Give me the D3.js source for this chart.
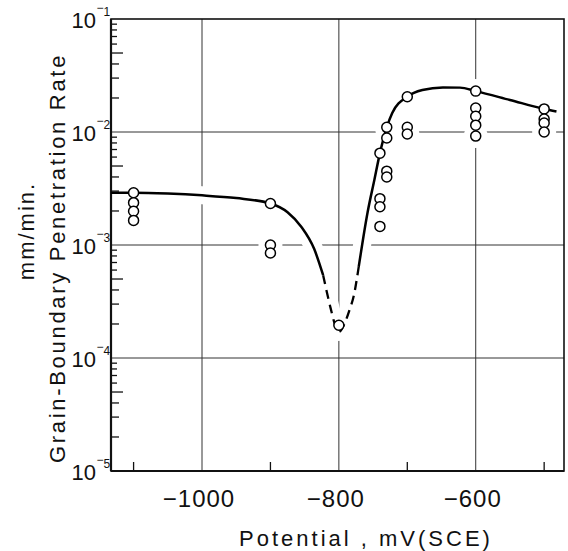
<!DOCTYPE html>
<html>
<head>
<meta charset="utf-8">
<script src="https://cdn.jsdelivr.net/npm/d3@7"></script>
<style>
  body { margin: 0; background: #fff; }
  text { font-family: "Liberation Sans", Arial, sans-serif; fill: #111; }
</style>
</head>
<body>
<div id="chart"></div>
<script>

var width = 568,
    height = 551;

// measured points (potential mV SCE, rate mm/min)
var pointX = [-1100, -1100, -1100, -1100,
              -900, -900, -900,
              -800,
              -740, -740, -740, -740,
              -730, -730, -730, -730,
              -700, -700, -700,
              -600, -600, -600, -600, -600,
              -500, -500, -500, -500];
var pointY = [2.9e-3, 2.37e-3, 1.99e-3, 1.65e-3,
              2.33e-3, 1.0e-3, 0.85e-3,
              1.95e-4,
              6.5e-3, 2.57e-3, 2.18e-3, 1.46e-3,
              1.1e-2, 8.85e-3, 4.5e-3, 4.0e-3,
              2.05e-2, 1.1e-2, 9.6e-3,
              2.3e-2, 1.63e-2, 1.38e-2, 1.15e-2, 9.2e-3,
              1.6e-2, 1.3e-2, 1.2e-2, 1.0e-2];

// fitted curve, drawn in three pieces (solid / dashed / solid)
var curveLeft = [[-1133, 2.9e-3], [-1100, 2.9e-3], [-1050, 2.85e-3], [-1000, 2.75e-3],
                 [-950, 2.6e-3], [-900, 2.33e-3], [-875, 1.95e-3], [-855, 1.45e-3],
                 [-836, 9.2e-4], [-823, 5.4e-4]];
var curveDip = [[-823, 5.4e-4], [-812, 2.75e-4], [-806, 2.0e-4], [-800, 1.7e-4],
                [-792, 2.0e-4], [-785, 2.6e-4], [-778, 3.6e-4], [-771, 6.4e-4]];
var curveRight = [[-771, 6.4e-4], [-758, 1.95e-3], [-748, 3.8e-3], [-740, 6.5e-3],
                  [-730, 1.1e-2], [-722, 1.47e-2], [-700, 2.05e-2], [-678, 2.35e-2],
                  [-648, 2.48e-2], [-623, 2.47e-2], [-600, 2.3e-2], [-550, 1.92e-2],
                  [-500, 1.6e-2], [-482, 1.52e-2]];

var gridX = [-1000, -800, -600];
var minorX = [-1100, -900, -700, -500];
var tickXLabels = ["\u22121000", "\u2212800", "\u2212600"];
var decades = [-1, -2, -3, -4, -5];

var margin = {left: 111, top: 19, right: 4, bottom: 80};

var svg = d3.select("#chart").append("svg")
    .attr("width", width)
    .attr("height", height);

var x = d3.scaleLinear()
    .domain([-1133, -471])
    .range([margin.left, width - margin.right]);

var y = d3.scaleLog()
    .domain([1e-5, 1e-1])
    .range([height - margin.bottom, margin.top]);

// grid
var grid = svg.append("g").attr("stroke", "#333").attr("stroke-width", 1);
grid.selectAll(".gx").data(gridX).enter().append("line")
    .attr("x1", function(d) { return x(d); })
    .attr("x2", function(d) { return x(d); })
    .attr("y1", y(1e-1)).attr("y2", y(1e-5));
grid.selectAll(".gy").data([1e-2, 1e-3, 1e-4]).enter().append("line")
    .attr("y1", function(d) { return y(d); })
    .attr("y2", function(d) { return y(d); })
    .attr("x1", x.range()[0]).attr("x2", x.range()[1]);

var line = d3.line()
    .x(function(d) { return x(d[0]); })
    .y(function(d) { return y(d[1]); })
    .curve(d3.curveMonotoneX);

// white halo so grid lines break around the marks, like the original
var halo = svg.append("g");
[curveLeft, curveDip, curveRight].forEach(function(seg) {
  halo.append("path").attr("d", line(seg))
      .attr("fill", "none").attr("stroke", "#fff").attr("stroke-width", 18);
});
halo.selectAll("circle").data(pointX).enter().append("circle")
    .attr("cx", function(d) { return x(d); })
    .attr("cy", function(d, i) { return y(pointY[i]); })
    .attr("r", 12)
    .attr("fill", "#fff");

// minor y ticks
var yt = [];
[-5, -4, -3, -2].forEach(function(e) {
  for (var m = 2; m <= 9; m++) yt.push({v: m * Math.pow(10, e), m: m});
});
svg.append("g").selectAll("line").data(yt).enter().append("line")
    .attr("x1", margin.left)
    .attr("x2", function(d) { return margin.left + (d.m == 5 ? 12 : (d.m < 5 ? 8 : 6)); })
    .attr("y1", function(d) { return y(d.v); })
    .attr("y2", function(d) { return y(d.v); })
    .attr("stroke", "#111").attr("stroke-width", 1.3);

// minor x ticks
svg.append("g").selectAll("line").data(minorX).enter().append("line")
    .attr("x1", function(d) { return x(d); })
    .attr("x2", function(d) { return x(d); })
    .attr("y1", y(1e-5)).attr("y2", y(1e-5) - 9)
    .attr("stroke", "#111").attr("stroke-width", 1.3);

// frame
svg.append("rect")
    .attr("x", x.range()[0]).attr("y", y(1e-1))
    .attr("width", x.range()[1] - x.range()[0])
    .attr("height", y(1e-5) - y(1e-1))
    .attr("fill", "none").attr("stroke", "#111").attr("stroke-width", 1.6);
svg.append("line")
    .attr("x1", x.range()[0]).attr("x2", x.range()[0])
    .attr("y1", y(1e-1)).attr("y2", y(1e-5))
    .attr("stroke", "#111").attr("stroke-width", 2.2);
svg.append("line")
    .attr("x1", x.range()[0]).attr("x2", x.range()[1])
    .attr("y1", y(1e-5)).attr("y2", y(1e-5))
    .attr("stroke", "#111").attr("stroke-width", 2.2);

// curve
svg.append("path").attr("d", line(curveLeft))
    .attr("fill", "none").attr("stroke", "#000").attr("stroke-width", 2.5);
svg.append("path").attr("d", line(curveDip))
    .attr("fill", "none").attr("stroke", "#000").attr("stroke-width", 2.3)
    .attr("stroke-dasharray", "9,6");
svg.append("path").attr("d", line(curveRight))
    .attr("fill", "none").attr("stroke", "#000").attr("stroke-width", 2.5);

// points
svg.append("g").selectAll("circle").data(pointX).enter().append("circle")
    .attr("cx", function(d) { return x(d); })
    .attr("cy", function(d, i) { return y(pointY[i]); })
    .attr("r", 5)
    .attr("fill", "#fff")
    .attr("stroke", "#000")
    .attr("stroke-width", 1.5);

// y tick labels: 10 with raised exponent
var yl = svg.append("g").selectAll("g").data(decades).enter().append("g");
yl.append("text")
    .attr("x", 96)
    .attr("y", function(d) { return y(Math.pow(10, d)) + 9; })
    .attr("text-anchor", "end")
    .attr("font-size", 22)
    .text("10");
var sup = yl.append("text")
    .attr("x", 96.5)
    .attr("y", function(d) { return y(Math.pow(10, d)) - 3; })
    .attr("font-size", 12);
sup.append("tspan").attr("dy", -4).text("\u2212");
sup.append("tspan").attr("dy", 4).text(function(d) { return -d; });

// x tick labels
svg.append("g").selectAll("text").data(gridX).enter().append("text")
    .attr("x", function(d) { return x(d) - 3; })
    .attr("y", 507)
    .attr("text-anchor", "middle")
    .attr("font-size", 24)
    .attr("letter-spacing", 1)
    .text(function(d, i) { return tickXLabels[i]; });

// axis titles
svg.append("text")
    .attr("x", 366).attr("y", 546)
    .attr("text-anchor", "middle")
    .attr("font-size", 22)
    .attr("letter-spacing", 3)
    .text("Potential , mV(SCE)");

svg.append("text")
    .attr("transform", "translate(65,258) rotate(-90)")
    .attr("text-anchor", "middle")
    .attr("font-size", 22)
    .attr("letter-spacing", 2.7)
    .text("Grain-Boundary Penetration Rate");

svg.append("text")
    .attr("transform", "translate(34,231) rotate(-90)")
    .attr("text-anchor", "middle")
    .attr("font-size", 22)
    .attr("letter-spacing", 2)
    .text("mm/min.");

</script>
</body>
</html>
